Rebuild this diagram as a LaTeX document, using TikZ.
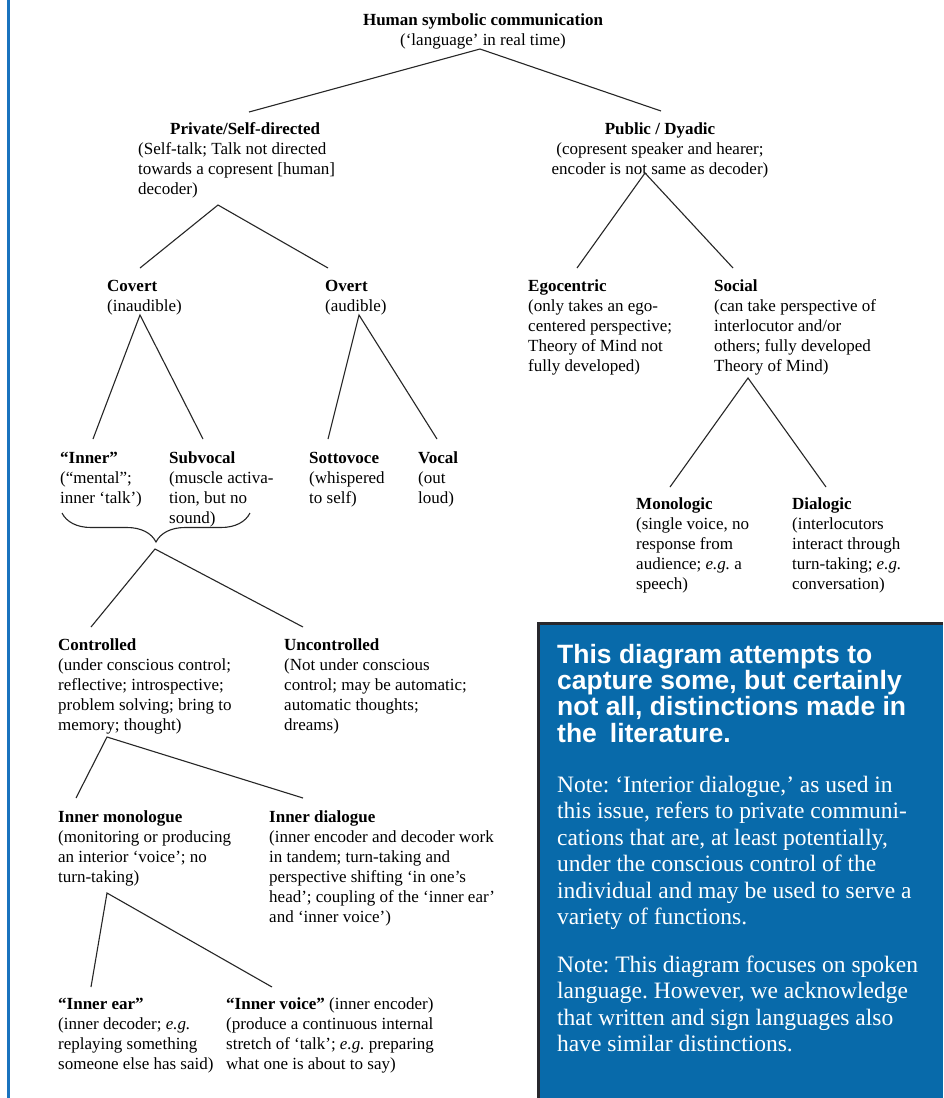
\documentclass[tikz,border=0pt]{standalone}
\usepackage{fontspec}
\setmainfont{Liberation Serif}
\newfontfamily\boxheadfont{Liberation Sans}
\usetikzlibrary{decorations.pathreplacing}
\definecolor{boxblue}{RGB}{8,106,170}
\definecolor{edgeblue}{RGB}{25,115,190}
\definecolor{boxedge}{RGB}{40,40,45}
\newcommand\fl{\rule{0pt}{15pt}}
\newcommand\flb{\rule{0pt}{20pt}}
\frenchspacing
\begin{document}
\frenchspacing
\begin{tikzpicture}[x=1pt,y=-1pt,
  lbl/.style={anchor=north west,inner sep=0pt,align=left,font=\fontsize{17}{20}\selectfont},
  clbl/.style={anchor=north,inner sep=0pt,align=center,font=\fontsize{17}{20}\selectfont},
  conn/.style={draw=black!85,line width=1.1pt},
  boxhead/.style={anchor=north west,inner sep=0pt,align=left,text=white,font=\boxheadfont\bfseries\fontsize{26.5}{26.3}\selectfont},
  boxbody/.style={anchor=north west,inner sep=0pt,align=left,text=white,font=\fontsize{23.5}{26.5}\selectfont}]
\useasboundingbox (0,0) rectangle (943,1098);
\fill[white] (0,0) rectangle (943,1098);
% left rule
\draw[edgeblue,line width=3pt] (8,0) -- (8,1098);

% blue box
\fill[boxblue] (537,622) rectangle (943,1098);
\draw[boxedge,line width=3pt] (538.5,1098) -- (538.5,623.5) -- (943,623.5);

% ---- texts
\node[clbl] (root) at (483,10) {\fl\textbf{Human symbolic communication}\\(‘language’ in real time)};

\node[lbl] (priv) at (138,119) {\fl\hspace*{32pt}\textbf{Private/Self-directed}\\(Self-talk; Talk not directed\\towards a copresent [human]\\decoder)};
\node[clbl] (pub) at (660,119) {\fl\textbf{Public / Dyadic}\\(copresent speaker and hearer;\\encoder is not same as decoder)};

\node[lbl] (covert) at (107,276) {\fl\textbf{Covert}\\(inaudible)};
\node[lbl] (overt) at (325,276) {\fl\textbf{Overt}\\(audible)};
\node[lbl] (ego) at (528,276) {\fl\textbf{Egocentric}\\(only takes an ego-\\centered perspective;\\Theory of Mind not\\fully developed)};
\node[lbl] (social) at (714,276) {\fl\textbf{Social}\\(can take perspective of\\interlocutor and/or\\others; fully developed\\Theory of Mind)};

\node[lbl] (inner) at (60,448) {\fl\textbf{“Inner”}\\(“mental”;\\inner ‘talk’)};
\node[lbl] (subvocal) at (169,448) {\fl\textbf{Subvocal}\\(muscle activa-\\tion, but no\\sound)};
\node[lbl] (sotto) at (309,448) {\fl\textbf{Sottovoce}\\(whispered\\to self)};
\node[lbl] (vocal) at (418,448) {\fl\textbf{Vocal}\\(out\\loud)};

\node[lbl] (mono) at (636,494) {\fl\textbf{Monologic}\\(single voice, no\\response from\\audience; \textit{e.g.} a\\speech)};
\node[lbl] (dia) at (792,494) {\fl\textbf{Dialogic}\\(interlocutors\\interact through\\turn-taking; \textit{e.g.}\\conversation)};

\node[lbl] (ctrl) at (58,635) {\fl\textbf{Controlled}\\(under conscious control;\\reflective; introspective;\\problem solving; bring to\\memory; thought)};
\node[lbl] (unctrl) at (284,635) {\fl\textbf{Uncontrolled}\\(Not under conscious\\control; may be automatic;\\automatic thoughts;\\dreams)};

\node[lbl] (imono) at (58,807) {\fl\textbf{Inner monologue}\\(monitoring or producing\\an interior ‘voice’; no\\turn-taking)};
\node[lbl] (idia) at (269,807) {\fl\textbf{Inner dialogue}\\(inner encoder and decoder work\\in tandem; turn-taking and\\perspective shifting ‘in one’s\\head’; coupling of the ‘inner ear’\\and ‘inner voice’)};

\node[lbl] (iear) at (58,994) {\fl\textbf{“Inner ear”}\\(inner decoder; \textit{e.g.}\\replaying something\\someone else has said)};
\node[lbl] (ivoice) at (226,994) {\fl\textbf{“Inner voice”} (inner encoder)\\(produce a continuous internal\\stretch of ‘talk’; \textit{e.g.} preparing\\what one is about to say)};

% box texts
\node[boxhead] (bhead) at (557,643) {\flb This diagram attempts to\\capture some, but certainly\\not all, distinctions made in\\the\hspace{13pt}literature.};
\node[boxbody] (note1) at (557,772) {\flb Note: ‘Interior dialogue,’ as used in\\this issue, refers to private communi-\\cations that are, at least potentially,\\under the conscious control of the\\individual and may be used to serve a\\variety of functions.};
\node[boxbody] (note2) at (557,952) {\flb Note: This diagram focuses on spoken\\language. However, we acknowledge\\that written and sign languages also\\have similar distinctions.};

% ---- connector points
\coordinate (rA) at (480,49);
\coordinate (rL) at (249,112);
\coordinate (rR) at (661,111);
\coordinate (pA) at (218,205);
\coordinate (pL) at (140,268);
\coordinate (pR) at (328,268);
\coordinate (cA) at (140,315);
\coordinate (cL) at (93,439);
\coordinate (cR) at (203,439);
\coordinate (oA) at (359,315);
\coordinate (oL) at (328,439);
\coordinate (oR) at (437,439);
\coordinate (uA) at (645,173);
\coordinate (uL) at (577,268);
\coordinate (uR) at (733,268);
\coordinate (sA) at (748,378);
\coordinate (sL) at (670,487);
\coordinate (sR) at (826,487);
\coordinate (brL) at (62,513);
\coordinate (brR) at (250,513);
\coordinate (bt) at (155,549);
\coordinate (btL) at (91,627);
\coordinate (btR) at (303,627);
\coordinate (kA) at (107,737);
\coordinate (kL) at (76,798);
\coordinate (kR) at (303,798);
\coordinate (mA) at (107,893);
\coordinate (mL) at (91,987);
\coordinate (mR) at (272,987);

% ---- connectors
\draw[conn] (rL) -- (rA) -- (rR);
\draw[conn] (pL) -- (pA) -- (pR);
\draw[conn] (cL) -- (cA) -- (cR);
\draw[conn] (oL) -- (oA) -- (oR);
\draw[conn] (uL) -- (uA) -- (uR);
\draw[conn] (sL) -- (sA) -- (sR);
\draw[conn,decorate,decoration={brace,amplitude=29pt}] (brR) -- (brL);
\draw[conn] (btL) -- (bt) -- (btR);
\draw[conn] (kL) -- (kA) -- (kR);
\draw[conn] (mL) -- (mA) -- (mR);
\end{tikzpicture}
\end{document}
